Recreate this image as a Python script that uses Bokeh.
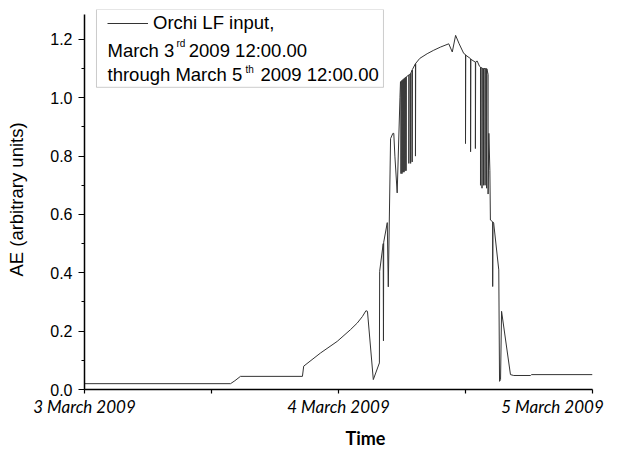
from bokeh.plotting import figure
from bokeh.models import Range1d, FixedTicker, Legend, LegendItem, Label, BoxAnnotation, Title
from bokeh.embed import file_html
from bokeh.resources import INLINE

# ---- data (time in days after 3 March 2009 00:00, AE in arbitrary units) ----
time_days = [
    0.000, 0.575, 0.592, 0.614, 0.858, 0.863, 0.929, 0.995, 1.047, 1.074,
    1.094, 1.108, 1.114, 1.137, 1.161, 1.162, 1.176, 1.177, 1.178, 1.192,
    1.196, 1.205, 1.214, 1.2177, 1.222, 1.231, 1.242, 1.244,
    # dense spike cluster (rising limb)
    1.246, 1.246, 1.247, 1.250, 1.250, 1.251, 1.254, 1.254, 1.255,
    1.258, 1.258, 1.259, 1.262, 1.262, 1.263, 1.266, 1.266, 1.267,
    1.277, 1.277, 1.278, 1.284, 1.284, 1.285, 1.290, 1.290, 1.291,
    1.303, 1.303, 1.304,
    # smooth top
    1.320, 1.349, 1.375, 1.402, 1.434, 1.448, 1.461, 1.475, 1.493,
    # spikes (falling limb)
    1.500, 1.500, 1.501, 1.520, 1.520, 1.521, 1.539, 1.539, 1.540,
    1.546, 1.555,
    1.559, 1.559, 1.560, 1.565, 1.565, 1.566, 1.571, 1.571, 1.572,
    1.577, 1.577, 1.578, 1.583, 1.583, 1.584, 1.589, 1.589,
    1.592, 1.596, 1.598, 1.607, 1.607, 1.608, 1.611, 1.631, 1.634,
    1.638, 1.642, 1.677, 1.690, 1.756, 1.760, 2.000,
]
ae_values = [
    0.020, 0.020, 0.030, 0.045, 0.045, 0.080, 0.125, 0.165, 0.205, 0.228,
    0.250, 0.270, 0.268, 0.034, 0.091, 0.405, 0.500, 0.167, 0.505, 0.572,
    0.352, 0.860, 0.878, 0.878, 0.800, 0.674, 1.000, 1.054,
    1.056, 0.740, 1.057, 1.059, 0.740, 1.060, 1.062, 0.745, 1.063,
    1.065, 0.745, 1.066, 1.068, 0.750, 1.069, 1.071, 0.750, 1.072,
    1.078, 0.775, 1.079, 1.083, 0.775, 1.085, 1.095, 0.780, 1.097,
    1.117, 0.800, 1.118,
    1.135, 1.151, 1.163, 1.174, 1.185, 1.157, 1.214, 1.185, 1.152,
    1.148, 0.843, 1.146, 1.134, 0.815, 1.132, 1.122, 0.826, 1.123,
    1.126, 1.108,
    1.105, 0.700, 1.104, 1.102, 0.690, 1.101, 1.100, 0.700, 1.100,
    1.100, 0.700, 1.100, 1.100, 0.690, 1.099, 1.080, 0.670,
    0.878, 0.750, 0.581, 0.575, 0.353, 0.574, 0.570, 0.410, 0.028,
    0.034, 0.268, 0.051, 0.048, 0.048, 0.051, 0.051,
]

x_ticks = [0, 1, 2]
x_minor_ticks = [0.5, 1.5]
x_tick_labels = ["3 March 2009", "4 March 2009", "5 March 2009"]
y_ticks = [0.0, 0.2, 0.4, 0.6, 0.8, 1.0, 1.2]
y_minor_ticks = [0.1, 0.3, 0.5, 0.7, 0.9, 1.1]
y_tick_labels = ["0.0", "0.2", "0.4", "0.6", "0.8", "1.0", "1.2"]
x_title = "Time"
y_title = "AE (arbitrary units)"

series_name = "Orchi LF input,"
legend_line2 = ["March 3", "rd", "2009 12:00.00"]
legend_line3 = ["through March 5", "th", "2009 12:00.00"]

LINE_COLOR = "#333333"

p = figure(
    width=619, height=454,
    output_backend="svg", toolbar_location=None,
    x_range=Range1d(0, 2), y_range=Range1d(0, 1.3026),
    min_border_left=84, min_border_right=27,
    min_border_top=9, min_border_bottom=64,
)
p.outline_line_color = None
p.grid.visible = False
p.background_fill_color = "white"
p.border_fill_color = "white"

r = p.line(time_days, ae_values, line_color=LINE_COLOR, line_width=1)

# ---- x axis ----
xa = p.xaxis[0]
xa.ticker = FixedTicker(ticks=x_ticks, minor_ticks=x_minor_ticks)
# the last label is padded on the right so that it stays inside the canvas
xa.major_label_overrides = {x_ticks[0]: x_tick_labels[0],
                            x_ticks[1]: x_tick_labels[1],
                            x_ticks[2]: x_tick_labels[2] + "\u2003\u00a0"}
xa.major_label_text_font = "Lato"
xa.major_label_text_font_style = "italic"
xa.major_label_text_font_size = "17px"
xa.major_label_text_color = "black"
xa.major_label_standoff = 2
xa.axis_line_width = 1.5
xa.axis_line_color = "black"
xa.major_tick_out = 4
xa.major_tick_in = 0
xa.minor_tick_out = 4
xa.minor_tick_in = 0
xa.major_tick_line_width = 1.2
xa.minor_tick_line_width = 1.2

p.add_layout(Title(text=x_title, align="left", offset=261,
                   vertical_align="bottom", standoff=11,
                   text_font="Lato", text_font_style="bold",
                   text_font_size="18px", text_color="black"), "below")

# ---- y axis ----
ya = p.yaxis[0]
ya.ticker = FixedTicker(ticks=y_ticks, minor_ticks=y_minor_ticks)
ya.major_label_overrides = {t: lab for t, lab in zip(y_ticks, y_tick_labels)}
ya.bounds = (0, 1.284)
ya.major_label_text_font = "Liberation Sans"
ya.major_label_text_font_size = "16px"
ya.major_label_text_color = "black"
ya.major_label_standoff = 6
ya.axis_line_width = 1.5
ya.axis_line_color = "black"
ya.major_tick_out = 6
ya.major_tick_in = 0
ya.minor_tick_out = 3
ya.minor_tick_in = 0
ya.major_tick_line_width = 1.2
ya.minor_tick_line_width = 1.2
ya.axis_label = y_title
ya.axis_label_text_font = "Liberation Sans"
ya.axis_label_text_font_style = "normal"
ya.axis_label_text_font_size = "18.5px"
ya.axis_label_text_color = "black"
ya.axis_label_standoff = 20

# ---- legend ----
legend = Legend(
    items=[LegendItem(label=series_name, renderers=[r])],
    location=(23, 355),
    border_line_color=None, background_fill_alpha=0,
    padding=0, margin=0, spacing=0,
    glyph_width=41, glyph_height=20, label_height=20, label_standoff=5,
    label_text_font="Liberation Sans", label_text_font_size="18.5px",
    label_text_color="black",
)
p.add_layout(legend)

box = BoxAnnotation(left=0.0472, right=1.177, top=1.3026, bottom=1.0359,
                    fill_color=None, line_color="#555555", line_width=1)
p.add_layout(box)

def add_text(x, y, text, size):
    p.add_layout(Label(x=x, y=y, text=text, text_font="Liberation Sans",
                       text_font_size=size, text_color="black",
                       text_baseline="alphabetic", text_align="left"))

add_text(0.0906, 1.1624, legend_line2[0], "18.5px")
add_text(0.3622, 1.1863, legend_line2[1], "10px")
add_text(0.4106, 1.1624, legend_line2[2], "18.5px")
add_text(0.0906, 1.0786, legend_line3[0], "18.5px")
add_text(0.6339, 1.0974, legend_line3[1], "10px")
add_text(0.6929, 1.0786, legend_line3[2], "18.5px")

open("out.html", "w").write(file_html(p, INLINE))
